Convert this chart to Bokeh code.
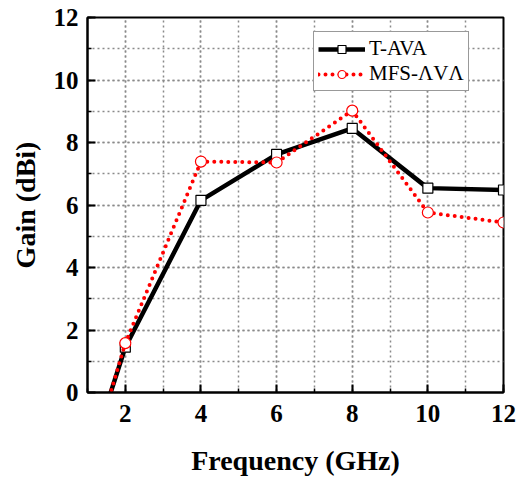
from bokeh.plotting import figure
from bokeh.models import FixedTicker, Range1d, Legend, LegendItem
from bokeh.embed import file_html
from bokeh.resources import INLINE

# Measured gain of the two antennas versus frequency
freq_ghz = [1, 2, 4, 6, 8, 10, 12]
gain_t_ava = [-2.3, 1.45, 6.15, 7.62, 8.45, 6.54, 6.48]
gain_mfs_ava = [-2.5, 1.58, 7.39, 7.36, 9.02, 5.76, 5.44]

x_ticks = [2, 4, 6, 8, 10, 12]
x_minor = [1, 2, 3, 4, 5, 6, 7, 8, 9, 10, 11, 12]
y_ticks = [0, 2, 4, 6, 8, 10, 12]
y_minor = [1, 2, 3, 4, 5, 6, 7, 8, 9, 10, 11, 12]

label_t = "T-AVA"
label_mfs = "MFS-ΛVΛ"

SERIF = "Liberation Serif"

p = figure(
    frame_width=416, frame_height=375,
    min_border_left=87, min_border_right=19,
    min_border_top=17, min_border_bottom=91,
    x_range=Range1d(1, 12), y_range=Range1d(0, 12),
    output_backend="svg", toolbar_location=None,
    background_fill_color="white", border_fill_color="white",
)

# frame outline
p.outline_line_color = "black"
p.outline_line_width = 2
p.outline_line_alpha = 1

# axes
for ax, ticks, minor in ((p.xaxis[0], x_ticks, x_minor), (p.yaxis[0], y_ticks, y_minor)):
    ax.ticker = FixedTicker(ticks=ticks, minor_ticks=minor)
    ax.axis_line_width = 2
    ax.axis_line_color = "black"
    ax.major_tick_in = 8
    ax.major_tick_out = 0
    ax.major_tick_line_width = 2
    ax.minor_tick_in = 4
    ax.minor_tick_out = 0
    ax.minor_tick_line_width = 1.5
    ax.major_label_text_font = SERIF
    ax.major_label_text_font_style = "bold"
    ax.major_label_text_font_size = "25px"
    ax.major_label_text_color = "black"
    ax.axis_label_text_font = SERIF
    ax.axis_label_text_font_style = "bold"
    ax.axis_label_text_font_size = "28px"
    ax.axis_label_text_color = "black"

p.xaxis.axis_label = "Frequency (GHz)"
p.yaxis.axis_label = "Gain (dBi)"
p.xaxis.major_label_standoff = 12
p.yaxis.major_label_standoff = 9
p.xaxis.axis_label_standoff = 20
p.yaxis.axis_label_standoff = 10

# dotted grid at every unit
for g in (p.xgrid[0], p.ygrid[0]):
    g.grid_line_color = "#8a8a8a"
    g.grid_line_dash = "2 3"
    g.grid_line_width = 1.5
    g.minor_grid_line_color = "#8a8a8a"
    g.minor_grid_line_dash = "2 3"
    g.minor_grid_line_width = 1.5

# series
l_t = p.line(freq_ghz, gain_t_ava, line_color="black", line_width=4.5)
m_t = p.scatter(freq_ghz, gain_t_ava, marker="square", size=10,
                fill_color="white", line_color="black", line_width=1.2)
l_m = p.line(freq_ghz, gain_mfs_ava, line_color="#ff0000", line_width=4,
             line_dash="0 7", line_cap="round")
m_m = p.scatter(freq_ghz, gain_mfs_ava, marker="circle", size=11,
                fill_color="white", line_color="#ff0000", line_width=1.2)

legend = Legend(
    items=[LegendItem(label=label_t, renderers=[l_t, m_t]),
           LegendItem(label=label_mfs, renderers=[l_m, m_m])],
    location=(226, 301),
    label_text_font=SERIF, label_text_font_size="21px",
    label_text_color="black",
    glyph_width=47, glyph_height=20, label_height=20, label_standoff=4,
    padding=4, spacing=0, margin=0,
    border_line_color="#333333", border_line_width=1.5,
    background_fill_color="white", background_fill_alpha=1,
)
p.add_layout(legend, "center")

open("out.html", "w").write(file_html(p, INLINE))
